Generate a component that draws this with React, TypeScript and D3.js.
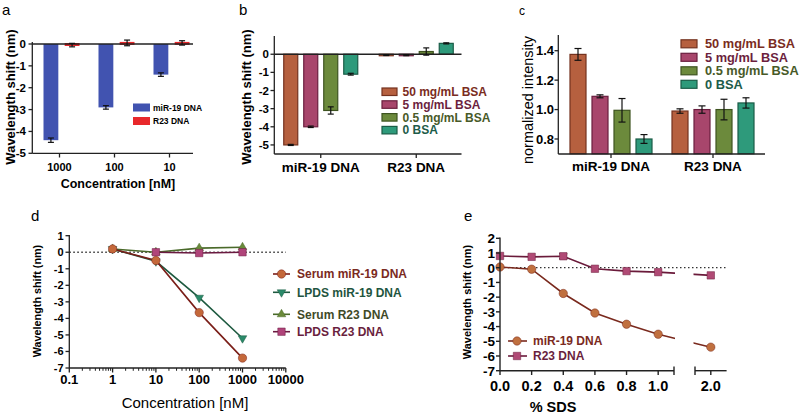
import React from "react";
import * as d3 from "d3";

const FONT = "'Liberation Sans', Arial, Helvetica, sans-serif";

// ---------- Panel a ----------
const aConc = ["1000", "100", "10"];
const aSeries = ["miR-19 DNA", "R23 DNA"];
const aMiR19 = [-4.4, -2.9, -1.4];
const aMiR19Err = [0.1, 0.08, 0.08];
const aR23 = [-0.05, 0.05, 0.05];
const aR23Err = [0.08, 0.13, 0.1];
const aYTicks = [0, -1, -2, -3, -4, -5];

// ---------- Panels b, c ----------
const bsaGroups = ["miR-19 DNA", "R23 DNA"];
const bsaLevels = ["50 mg/mL BSA", "5 mg/mL BSA", "0.5 mg/mL BSA", "0 BSA"];
const bShift50 = [-5.0, -0.05];
const bShift5 = [-4.0, -0.05];
const bShift05 = [-3.1, 0.15];
const bShift0 = [-1.1, 0.6];
const bErr50 = [0.03, 0.02];
const bErr5 = [0.04, 0.03];
const bErr05 = [0.2, 0.2];
const bErr0 = [0.05, 0.03];
const bYTicks = [0, -1, -2, -3, -4, -5];

const cInt50 = [1.375, 0.99];
const cInt5 = [1.09, 1.0];
const cInt05 = [0.995, 1.0];
const cInt0 = [0.8, 1.045];
const cErr50 = [0.04, 0.015];
const cErr5 = [0.01, 0.025];
const cErr05 = [0.08, 0.07];
const cErr0 = [0.03, 0.035];
const cYTicks = [0.8, 1.0, 1.2, 1.4];

// ---------- Panel d ----------
const dConc = [1, 10, 100, 1000];
const dSerumMiR = [0.2, -0.5, -3.65, -6.4];
const dLpdsMiR = [0.2, -0.55, -2.75, -5.2];
const dSerumR23 = [0.2, 0.0, 0.25, 0.3];
const dLpdsR23 = [null, 0.0, -0.05, 0.0];
const dXTicks = [0.1, 1, 10, 100, 1000, 10000];
const dYTicks = [1, 0, -1, -2, -3, -4, -5, -6, -7];

// ---------- Panel e ----------
const eSds = [0, 0.2, 0.4, 0.6, 0.8, 1.0, 2.0];
const eMiR = [0.05, -0.1, -1.75, -3.08, -3.84, -4.52, -5.4];
const eR23 = [0.8, 0.74, 0.78, -0.07, -0.23, -0.3, -0.52];
const eR23Err = [0, 0, 0.17, 0, 0, 0, 0];
const eXTicks = [0, 0.2, 0.4, 0.6, 0.8, 1.0, 2.0];
const eYTicks = [2, 1, 0, -1, -2, -3, -4, -5, -6, -7];

// styles
const bsaFill = ["#b6603f", "#a8466c", "#6c8a3c", "#2e9a7b"];
const bsaStroke = ["#74321f", "#6a1f3f", "#3e5420", "#1a5c47"];
const bsaText = ["#7a2c22", "#6c1f3e", "#485a28", "#1d5c4a"];
const AX = "#222";

function ErrBar({ x, y1, y2, w = 6 }: { x: number; y1: number; y2: number; w?: number }) {
  return (
    <g stroke="#111" strokeWidth={1.2}>
      <line x1={x} x2={x} y1={y1} y2={y2} />
      <line x1={x - w / 2} x2={x + w / 2} y1={y1} y2={y1} />
      <line x1={x - w / 2} x2={x + w / 2} y1={y2} y2={y2} />
    </g>
  );
}

export default function App() {
  React.useEffect(() => {
    document.body.style.margin = "0";
  }, []);

  // ---- a scales
  const aX = d3.scaleBand<string>().domain(aConc).range([32, 197]);
  const aIn = d3.scaleBand<string>().domain(aSeries).range([-16, 20]).paddingInner(0.3);
  const aY = d3.scaleLinear().domain([-5, 0]).range([153.3, 44]);
  const aVals = [aMiR19, aR23];
  const aErrs = [aMiR19Err, aR23Err];
  const aCols = ["#4153b0", "#e8282b"];

  // ---- b scales
  const bX = d3.scaleBand<string>().domain(bsaGroups).range([273, 464]);
  const bIn = d3.scaleBand<string>().domain(bsaLevels).range([-37, 37]).paddingInner(0.3);
  const bY = d3.scaleLinear().domain([-5.5, 1]).range([154, 36.1]);
  const bVals = [bShift50, bShift5, bShift05, bShift0];
  const bErrs = [bErr50, bErr5, bErr05, bErr0];

  // ---- c scales
  const cX = d3.scaleBand<string>().domain(bsaGroups).range([560, 764]);
  const cIn = d3.scaleBand<string>().domain(bsaLevels).range([-41, 41]).paddingInner(6 / 22);
  const cY = d3.scaleLinear().domain([0.7, 1.5]).range([153.7, 36]);
  const cVals = [cInt50, cInt5, cInt05, cInt0];
  const cErrs = [cErr50, cErr5, cErr05, cErr0];

  // ---- d scales
  const dX = d3.scaleLog().domain([0.1, 10000]).range([69.3, 285.8]);
  const dY = d3.scaleLinear().domain([-7, 1]).range([368, 235.7]);
  const dMinor: number[] = [];
  [0.1, 1, 10, 100, 1000].forEach((dec) => {
    for (let k = 2; k <= 9; k++) dMinor.push(dec * k);
  });
  const dSeries = [
    { name: "Serum R23 DNA", vals: dSerumR23, line: "#4a6a2a", fill: "#6a8a3a", sym: d3.symbolTriangle, rot: 0, text: "#3f4a28" },
    { name: "LPDS miR-19 DNA", vals: dLpdsMiR, line: "#1e5a40", fill: "#2a8a6a", sym: d3.symbolTriangle, rot: 180, text: "#1f5540" },
    { name: "LPDS R23 DNA", vals: dLpdsR23, line: "#6a1a40", fill: "#b0447a", sym: d3.symbolSquare, rot: 0, text: "#6a1f3e" },
    { name: "Serum miR-19 DNA", vals: dSerumMiR, line: "#7a1e18", fill: "#c4683a", sym: d3.symbolCircle, rot: 0, text: "#7a2a22" },
  ];
  const dLegendOrder = ["Serum miR-19 DNA", "LPDS miR-19 DNA", "Serum R23 DNA", "LPDS R23 DNA"];
  const dLegendY = [274, 292.3, 314.3, 331.7];
  const symPath = (t: any) =>
    d3.symbol().type(t).size(t === d3.symbolCircle ? 55 : t === d3.symbolSquare ? 55 : 32)() as string;

  // ---- e scales (broken axis)
  const eX1 = d3.scaleLinear().domain([0, 1.1]).range([500, 674]);
  const eX2 = d3.scaleLinear().domain([1.9, 2.1]).range([695, 726.6]);
  const eX = (v: number) => (v <= 1.5 ? eX1(v) : eX2(v));
  const eY = d3.scaleLinear().domain([-7, 2]).range([370.7, 238.3]);
  const eLine = d3
    .line<number>()
    .x((_, i) => eX(eSds[i]))
    .y((v) => eY(v));
  const eSeries = [
    { name: "miR-19 DNA", vals: eMiR, line: "#7a2a1e", fill: "#c0703f", sym: d3.symbolCircle, text: "#7a2a22" },
    { name: "R23 DNA", vals: eR23, line: "#6a1a3a", fill: "#b04a75", sym: d3.symbolSquare, text: "#6a1f3e" },
  ];

  const dLine = (vals: (number | null)[]) =>
    d3
      .line<number | null>()
      .defined((v) => v !== null)
      .x((_, i) => dX(dConc[i]))
      .y((v) => dY(v as number))(vals) as string;

  return (
    <svg
      width={800}
      height={416}
      style={{ position: "absolute", left: 0, top: 0, background: "#fff" }}
      fontFamily={FONT}
    >
      <rect width={800} height={416} fill="#fff" />
      {/* panel letters */}
      <text x={2} y={15} fontSize={15}>a</text>
      <text x={239} y={15} fontSize={15}>b</text>
      <text x={519} y={15} fontSize={12}>c</text>
      <text x={31} y={221} fontSize={15}>d</text>
      <text x={464} y={221} fontSize={15}>e</text>

      {/* ================= Panel a ================= */}
      <g>
        {aSeries.map((s, si) =>
          aConc.map((c, ci) => {
            const v = aVals[si][ci];
            const x = (aX(c) as number) + aX.bandwidth() / 2 + (aIn(s) as number);
            const y0 = aY(0);
            const y1 = aY(v);
            return (
              <rect
                key={s + c}
                x={x}
                width={aIn.bandwidth()}
                y={Math.min(y0, y1) - (si === 1 ? 1 : 0)}
                height={Math.max(Math.abs(y1 - y0), si === 1 ? 3 : 2)}
                fill={aCols[si]}
              />
            );
          })
        )}
        <line x1={32.3} x2={193} y1={aY(0)} y2={aY(0)} stroke={AX} strokeWidth={1.3} />
        {aSeries.map((s, si) =>
          aConc.map((c, ci) => {
            const v = aVals[si][ci];
            const e = aErrs[si][ci];
            const x = (aX(c) as number) + aX.bandwidth() / 2 + (aIn(s) as number) + aIn.bandwidth() / 2;
            return <ErrBar key={"e" + s + c} x={x} y1={aY(v - e)} y2={aY(v + e)} />;
          })
        )}
        <line x1={32.3} x2={32.3} y1={42} y2={153.3} stroke={AX} strokeWidth={1.3} />
        <line x1={32.3} x2={193} y1={153.3} y2={153.3} stroke={AX} strokeWidth={1.3} />
        {aYTicks.map((t) => (
          <g key={t}>
            <line x1={28.5} x2={32.3} y1={aY(t)} y2={aY(t)} stroke={AX} strokeWidth={1.3} />
            <text x={26} y={aY(t) + 4} fontSize={11.5} fontWeight="bold" textAnchor="end">{t}</text>
          </g>
        ))}
        {aConc.map((c) => {
          const x = (aX(c) as number) + aX.bandwidth() / 2;
          return (
            <g key={c}>
              <line x1={x} x2={x} y1={153.3} y2={157.5} stroke={AX} strokeWidth={1.3} />
              <text x={x} y={171} fontSize={11} fontWeight="bold" textAnchor="middle">{c}</text>
            </g>
          );
        })}
        <text x={118} y={187.5} fontSize={12.5} fontWeight="bold" textAnchor="middle">Concentration [nM]</text>
        <text transform="translate(15,97) rotate(-90)" fontSize={13} fontWeight="bold" textAnchor="middle">Wavelength shift (nm)</text>
        {aSeries.map((s, si) => (
          <g key={"lg" + s}>
            <rect x={133} y={103.5 + si * 13.5} width={17} height={8} fill={aCols[si]} />
            <text x={153} y={110.5 + si * 13.5} fontSize={8.5} fontWeight="bold">{s}</text>
          </g>
        ))}
      </g>

      {/* ================= Panel b ================= */}
      <g>
        {bsaLevels.map((lv, li) =>
          bsaGroups.map((g, gi) => {
            const v = bVals[li][gi];
            const x = (bX(g) as number) + bX.bandwidth() / 2 + (bIn(lv) as number);
            const y0 = bY(0);
            const y1 = bY(v);
            return (
              <rect
                key={lv + g}
                x={x}
                width={bIn.bandwidth()}
                y={Math.min(y0, y1)}
                height={Math.max(Math.abs(y1 - y0), 1.5)}
                fill={bsaFill[li]}
                stroke={bsaStroke[li]}
                strokeWidth={1.2}
              />
            );
          })
        )}
        <line x1={274.3} x2={461.5} y1={bY(0)} y2={bY(0)} stroke={AX} strokeWidth={1.3} />
        {bsaLevels.map((lv, li) =>
          bsaGroups.map((g, gi) => {
            const v = bVals[li][gi];
            const e = bErrs[li][gi];
            const x = (bX(g) as number) + bX.bandwidth() / 2 + (bIn(lv) as number) + bIn.bandwidth() / 2;
            return <ErrBar key={"e" + lv + g} x={x} y1={bY(v - e)} y2={bY(v + e)} />;
          })
        )}
        <line x1={274.3} x2={274.3} y1={36} y2={154} stroke={AX} strokeWidth={1.3} />
        <line x1={274.3} x2={461.5} y1={154} y2={154} stroke={AX} strokeWidth={1.3} />
        {bYTicks.map((t) => (
          <g key={t}>
            <line x1={270.5} x2={274.3} y1={bY(t)} y2={bY(t)} stroke={AX} strokeWidth={1.3} />
            <text x={269} y={bY(t) + 4} fontSize={11.5} fontWeight="bold" textAnchor="end">{t}</text>
          </g>
        ))}
        {bsaGroups.map((g) => {
          const x = (bX(g) as number) + bX.bandwidth() / 2;
          return (
            <g key={g}>
              <line x1={x} x2={x} y1={154} y2={158} stroke={AX} strokeWidth={1.3} />
              <text x={x} y={171.5} fontSize={13.5} fontWeight="bold" textAnchor="middle">{g}</text>
            </g>
          );
        })}
        <text transform="translate(251,97) rotate(-90)" fontSize={13} fontWeight="bold" textAnchor="middle">Wavelength shift (nm)</text>
        {bsaLevels.map((lv, li) => (
          <g key={"lg" + lv}>
            <rect x={382} y={88 + li * 12.8} width={15} height={7.5} fill={bsaFill[li]} stroke={bsaStroke[li]} strokeWidth={1.2} />
            <text x={402.5} y={96 + li * 12.8} fontSize={12} fontWeight="bold" fill={bsaText[li]}>{lv}</text>
          </g>
        ))}
      </g>

      {/* ================= Panel c ================= */}
      <g>
        {bsaLevels.map((lv, li) =>
          bsaGroups.map((g, gi) => {
            const v = cVals[li][gi];
            const x = (cX(g) as number) + cX.bandwidth() / 2 + (cIn(lv) as number);
            const y0 = cY(0.7);
            const y1 = cY(v);
            return (
              <rect
                key={lv + g}
                x={x}
                width={cIn.bandwidth()}
                y={y1}
                height={y0 - y1}
                fill={bsaFill[li]}
                stroke={bsaStroke[li]}
                strokeWidth={1.2}
              />
            );
          })
        )}
        {bsaLevels.map((lv, li) =>
          bsaGroups.map((g, gi) => {
            const v = cVals[li][gi];
            const e = cErrs[li][gi];
            const x = (cX(g) as number) + cX.bandwidth() / 2 + (cIn(lv) as number) + cIn.bandwidth() / 2;
            return <ErrBar key={"e" + lv + g} x={x} y1={cY(v - e)} y2={cY(v + e)} w={7} />;
          })
        )}
        <line x1={558.3} x2={558.3} y1={35} y2={154} stroke={AX} strokeWidth={1.3} />
        <line x1={558.3} x2={765} y1={154} y2={154} stroke={AX} strokeWidth={1.3} />
        {cYTicks.map((t) => (
          <g key={t}>
            <line x1={554.5} x2={558.3} y1={cY(t)} y2={cY(t)} stroke={AX} strokeWidth={1.3} />
            <text x={554} y={cY(t) + 4.7} fontSize={13} fontWeight="bold" textAnchor="end">{d3.format(".1f")(t)}</text>
          </g>
        ))}
        {bsaGroups.map((g) => {
          const x = (cX(g) as number) + cX.bandwidth() / 2;
          return (
            <g key={g}>
              <line x1={x} x2={x} y1={154} y2={158} stroke={AX} strokeWidth={1.3} />
              <text x={x} y={170.5} fontSize={13.5} fontWeight="bold" textAnchor="middle">{g}</text>
            </g>
          );
        })}
        <text transform="translate(533,100) rotate(-90)" fontSize={14.5} textAnchor="middle">normalized intensity</text>
        {bsaLevels.map((lv, li) => (
          <g key={"lg" + lv}>
            <rect x={681} y={39.8 + li * 13.5} width={16} height={8} fill={bsaFill[li]} stroke={bsaStroke[li]} strokeWidth={1.2} />
            <text x={705} y={48.3 + li * 13.5} fontSize={12.8} fontWeight="bold" fill={bsaText[li]}>{lv}</text>
          </g>
        ))}
      </g>

      {/* ================= Panel d ================= */}
      <g>
        <line x1={69.3} x2={285.8} y1={dY(0)} y2={dY(0)} stroke="#333" strokeWidth={1.3} strokeDasharray="1.5,2.5" />
        {dSeries.map((s) => (
          <path key={"l" + s.name} d={dLine(s.vals)} fill="none" stroke={s.line} strokeWidth={1.6} />
        ))}
        {dSeries.map((s) =>
          s.vals.map((v, i) =>
            v === null ? null : (
              <path
                key={s.name + i}
                d={symPath(s.sym)}
                transform={`translate(${dX(dConc[i])},${dY(v)}) rotate(${s.rot})`}
                fill={s.fill}
                stroke={s.line}
                strokeWidth={0.5}
              />
            )
          )
        )}
        <line x1={69.3} x2={69.3} y1={235} y2={368} stroke={AX} strokeWidth={1.3} />
        <line x1={69.3} x2={285.8} y1={368} y2={368} stroke={AX} strokeWidth={1.3} />
        {dYTicks.map((t) => (
          <g key={t}>
            <line x1={65.5} x2={69.3} y1={dY(t)} y2={dY(t)} stroke={AX} strokeWidth={1.3} />
            <text x={63.5} y={dY(t) + 4} fontSize={11} fontWeight="bold" textAnchor="end">{t}</text>
          </g>
        ))}
        {dMinor.map((t) => (
          <line key={"m" + t} x1={dX(t)} x2={dX(t)} y1={368} y2={370.8} stroke={AX} strokeWidth={1} />
        ))}
        {dXTicks.map((t) => (
          <g key={t}>
            <line x1={dX(t)} x2={dX(t)} y1={368} y2={372.5} stroke={AX} strokeWidth={1.3} />
            <text x={dX(t)} y={383.5} fontSize={13} fontWeight="bold" textAnchor="middle">{String(t)}</text>
          </g>
        ))}
        <text x={185} y={407.5} fontSize={15} textAnchor="middle">Concentration [nM]</text>
        <text transform="translate(40.5,301) rotate(-90)" fontSize={10.8} fontWeight="bold" textAnchor="middle">Wavelength shift (nm)</text>
        {dLegendOrder.map((nm, k) => {
          const s = dSeries.find((q) => q.name === nm)!;
          const y = dLegendY[k];
          return (
            <g key={"lg" + nm}>
              <line x1={273} x2={290} y1={y} y2={y} stroke={s.line} strokeWidth={1.6} />
              <path d={symPath(s.sym)} transform={`translate(281.5,${y}) rotate(${s.rot})`} fill={s.fill} stroke={s.line} strokeWidth={0.5} />
              <text x={297} y={y + 4.3} fontSize={12} fontWeight="bold" fill={s.text}>{nm}</text>
            </g>
          );
        })}
      </g>

      {/* ================= Panel e ================= */}
      <g>
        <defs>
          <clipPath id="eclip">
            <rect x={480} y={220} width={195} height={170} />
            <rect x={693.5} y={220} width={60} height={170} />
          </clipPath>
        </defs>
        <line x1={500} x2={726.6} y1={eY(0)} y2={eY(0)} stroke="#333" strokeWidth={1.3} strokeDasharray="1.5,2.5" />
        <g clipPath="url(#eclip)">
          {eSeries.map((s) => (
            <path key={"l" + s.name} d={eLine(s.vals) as string} fill="none" stroke={s.line} strokeWidth={1.6} />
          ))}
        </g>
        {eR23.map((v, i) =>
          eR23Err[i] > 0 ? <ErrBar key={"er" + i} x={eX(eSds[i])} y1={eY(v - eR23Err[i])} y2={eY(v + eR23Err[i])} w={8} /> : null
        )}
        {eSeries.map((s) =>
          s.vals.map((v, i) => (
            <path
              key={s.name + i}
              d={symPath(s.sym)}
              transform={`translate(${eX(eSds[i])},${eY(v)})`}
              fill={s.fill}
              stroke={s.line}
              strokeWidth={0.5}
            />
          ))
        )}
        <line x1={500} x2={500} y1={237.5} y2={370.7} stroke={AX} strokeWidth={1.4} />
        <line x1={500} x2={674} y1={370.7} y2={370.7} stroke={AX} strokeWidth={1.4} />
        <line x1={695} x2={726.6} y1={370.7} y2={370.7} stroke={AX} strokeWidth={1.4} />
        <line x1={674} x2={674} y1={366.5} y2={375} stroke={AX} strokeWidth={1.4} />
        <line x1={695} x2={695} y1={366.5} y2={375} stroke={AX} strokeWidth={1.4} />
        {eYTicks.map((t) => (
          <g key={t}>
            <line x1={496} x2={500} y1={eY(t)} y2={eY(t)} stroke={AX} strokeWidth={1.4} />
            <text x={495} y={eY(t) + 4.8} fontSize={13.5} fontWeight="bold" textAnchor="end">{t}</text>
          </g>
        ))}
        {eXTicks.map((t) => (
          <g key={t}>
            <line x1={eX(t)} x2={eX(t)} y1={370.7} y2={375} stroke={AX} strokeWidth={1.4} />
            <text x={eX(t)} y={390.5} fontSize={14.5} fontWeight="bold" textAnchor="middle">{d3.format(".1f")(t)}</text>
          </g>
        ))}
        <text x={553} y={412} fontSize={14.5} fontWeight="bold" textAnchor="middle">% SDS</text>
        <text transform="translate(470.5,302) rotate(-90)" fontSize={11} fontWeight="bold" textAnchor="middle">Wavelength shift (nm)</text>
        {eSeries.map((s, k) => {
          const y = 341 + k * 15;
          return (
            <g key={"lg" + s.name}>
              <line x1={508} x2={527} y1={y} y2={y} stroke={s.line} strokeWidth={1.6} />
              <path d={symPath(s.sym)} transform={`translate(517,${y})`} fill={s.fill} stroke={s.line} strokeWidth={0.5} />
              <text x={533} y={y + 4.3} fontSize={12} fontWeight="bold" fill={s.text}>{s.name}</text>
            </g>
          );
        })}
      </g>
    </svg>
  );
}
